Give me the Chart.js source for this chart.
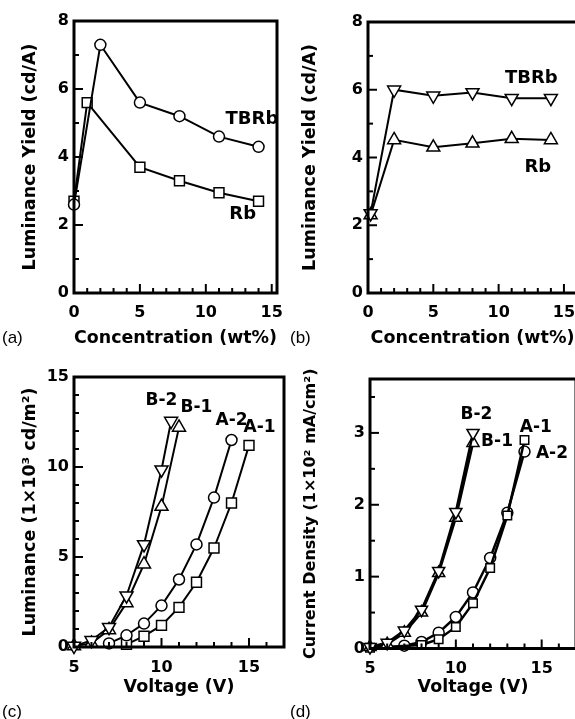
<!DOCTYPE html>
<html>
<head>
<meta charset="utf-8">
<script src="https://cdn.jsdelivr.net/npm/chart.js@4.4.0/dist/chart.umd.min.js"></script>
<style>
html, body { margin: 0; padding: 0; background: #fff; overflow: hidden; }
body { width: 575px; height: 719px; position: relative; }
canvas { position: absolute; }
.tag { position: absolute; font: 17px "Liberation Sans", Arial, sans-serif; color: #000; line-height: 20px; }
</style>
</head>
<body>
<canvas id="chartA" width="295" height="360" style="left:0;top:0"></canvas>
<canvas id="chartB" width="300" height="360" style="left:287px;top:0"></canvas>
<canvas id="chartC" width="295" height="359" style="left:0;top:360px"></canvas>
<canvas id="chartD" width="300" height="359" style="left:287px;top:360px"></canvas>
<div class="tag" style="left:2px;top:328px">(a)</div>
<div class="tag" style="left:290px;top:328px">(b)</div>
<div class="tag" style="left:2px;top:702px">(c)</div>
<div class="tag" style="left:290px;top:702px">(d)</div>
<script>
// (a) luminance yield vs dopant concentration
var concA_TBRb = [0, 2, 5, 8, 11, 14];
var yieldA_TBRb = [2.6, 7.3, 5.6, 5.2, 4.6, 4.3];
var concA_Rb = [0, 1, 5, 8, 11, 14];
var yieldA_Rb = [2.7, 5.6, 3.7, 3.3, 2.95, 2.7];

// (b)
var concB = [0.2, 2, 5, 8, 11, 14];
var yieldB_TBRb = [2.35, 6.0, 5.82, 5.92, 5.75, 5.75];
var yieldB_Rb = [2.3, 4.52, 4.3, 4.42, 4.55, 4.52];

// (c) luminance vs voltage
var voltC_B2 = [5, 6, 7, 8, 9, 10, 10.55];
var lumC_B2 = [0.05, 0.37, 1.1, 2.85, 5.7, 9.85, 12.55];
var voltC_B1 = [5, 6, 7, 8, 9, 10, 11];
var lumC_B1 = [0.05, 0.2, 0.95, 2.45, 4.6, 7.8, 12.2];
var voltC_A2 = [7, 8, 9, 10, 11, 12, 13, 14];
var lumC_A2 = [0.2, 0.65, 1.3, 2.3, 3.75, 5.7, 8.3, 11.5];
var voltC_A1 = [8, 9, 10, 11, 12, 13, 14, 15];
var lumC_A1 = [0.15, 0.6, 1.2, 2.2, 3.6, 5.5, 8.0, 11.2];

// (d) current density vs voltage
var voltD_B = [5, 6, 7, 8, 9, 10, 11];
var curD_B2 = [0.02, 0.08, 0.25, 0.54, 1.08, 1.9, 3.0];
var curD_B1 = [0.02, 0.06, 0.22, 0.5, 1.05, 1.82, 2.86];
var voltD_A2 = [7, 8, 9, 10, 11, 12, 13, 14];
var curD_A2 = [0.04, 0.09, 0.22, 0.44, 0.78, 1.26, 1.89, 2.74];
var voltD_A1 = [5, 8, 9, 10, 11, 12, 13, 14];
var curD_A1 = [0.01, 0.05, 0.13, 0.3, 0.63, 1.12, 1.85, 2.9];

// labelled (major) ticks
var ticksConc = [0, 5, 10, 15];
var ticksYield = [0, 2, 4, 6, 8];
var ticksVolt = [5, 10, 15];
var ticksLum = [0, 5, 10, 15];
var ticksCur = [0, 1, 2, 3];

var FONT = '"DejaVu Sans", sans-serif';

function xy(xs, ys) {
    return xs.map(function (x, i) { return {x: x, y: ys[i]}; });
}

function series(xs, ys, style, radius, rot, width) {
    return {
        data: xy(xs, ys),
        borderColor: '#000',
        borderWidth: width || 2,
        pointStyle: style,
        pointRadius: radius,
        pointRotation: rot || 0,
        pointBackgroundColor: '#fff',
        pointBorderColor: '#000',
        pointBorderWidth: 1.5,
        tension: 0,
        clip: false
    };
}

function axis(o) {
    return {
        type: 'linear',
        min: o.min,
        max: o.max,
        afterFit: function (s) {
            if (s.isHorizontal()) s.height = o.size; else s.width = o.size;
        },
        grid: {display: false, drawTicks: false},
        border: {display: false},
        ticks: {
            stepSize: o.step,
            autoSkip: false,
            maxRotation: 0,
            includeBounds: false,
            padding: o.tickPad,
            color: '#000',
            font: {family: FONT, weight: 'bold', size: 16},
            callback: function (v) {
                var hit = o.labels.some(function (l) { return Math.abs(l - v) < 1e-6; });
                return hit ? String(v) : '';
            }
        },
        title: {
            display: true,
            text: o.title,
            color: '#000',
            font: {family: FONT, weight: 'bold', size: o.titleSize || 17.5},
            padding: o.titlePad
        }
    };
}

// inward tick marks + box frame
var framePlugin = {
    id: 'frame',
    afterDraw: function (chart) {
        var ctx = chart.ctx, a = chart.chartArea;
        ctx.save();
        ctx.strokeStyle = '#000';
        ctx.lineWidth = 2;
        ['x', 'y'].forEach(function (id) {
            var sc = chart.scales[id];
            sc.ticks.forEach(function (t) {
                var len = t.label === '' ? 5 : 9;
                var p = sc.getPixelForValue(t.value);
                ctx.beginPath();
                if (id === 'x') { ctx.moveTo(p, a.bottom); ctx.lineTo(p, a.bottom - len); }
                else { ctx.moveTo(a.left, p); ctx.lineTo(a.left + len, p); }
                ctx.stroke();
            });
        });
        ctx.lineWidth = 3;
        ctx.strokeRect(a.left, a.top, a.right - a.left, a.bottom - a.top);
        ctx.restore();
    }
};

function notes(items, size) {
    return {
        id: 'notes',
        afterDatasetsDraw: function (chart) {
            var ctx = chart.ctx, xs = chart.scales.x, ys = chart.scales.y;
            ctx.save();
            ctx.fillStyle = '#000';
            ctx.font = 'bold ' + size + 'px ' + FONT;
            ctx.textAlign = 'center';
            ctx.textBaseline = 'middle';
            items.forEach(function (n) {
                ctx.fillText(n.text, xs.getPixelForValue(n.x), ys.getPixelForValue(n.y));
            });
            ctx.restore();
        }
    };
}

function panel(id, datasets, pad, xAx, yAx, noteList, noteSize) {
    return new Chart(document.getElementById(id), {
        type: 'line',
        data: {datasets: datasets},
        options: {
            responsive: false,
            animation: false,
            layout: {padding: pad},
            plugins: {legend: {display: false}, tooltip: {enabled: false}},
            scales: {x: axis(xAx), y: axis(yAx)}
        },
        plugins: [framePlugin, notes(noteList, noteSize)]
    });
}

panel('chartA', [
    series(concA_TBRb, yieldA_TBRb, 'circle', 5.5),
    series(concA_Rb, yieldA_Rb, 'rect', 7)
], {left: 0, top: 21, right: 18, bottom: 0},
    {min: 0, max: 15.4, step: 1, labels: ticksConc, size: 67, tickPad: 10,
     title: 'Concentration (wt%)', titlePad: {top: 0, bottom: 11.5}},
    {min: 0, max: 8, step: 1, labels: ticksYield, size: 74, tickPad: 5,
     title: 'Luminance Yield (cd/A)', titlePad: {top: 19.5, bottom: 0}},
    [{text: 'TBRb', x: 13.5, y: 5.1}, {text: 'Rb', x: 12.8, y: 2.3}], 18);

panel('chartB', [
    series(concB, yieldB_TBRb, 'triangle', 7.5, 180),
    series(concB, yieldB_Rb, 'triangle', 7.5)
], {left: 0, top: 22, right: 9.4, bottom: 0},
    {min: 0, max: 16, step: 1, labels: ticksConc, size: 67, tickPad: 10,
     title: 'Concentration (wt%)', titlePad: {top: 0, bottom: 11.5}},
    {min: 0, max: 8, step: 1, labels: ticksYield, size: 81, tickPad: 5,
     title: 'Luminance Yield (cd/A)', titlePad: {top: 13, bottom: 0}},
    [{text: 'TBRb', x: 12.5, y: 6.35}, {text: 'Rb', x: 13, y: 3.7}], 18);

panel('chartC', [
    series(voltC_B2, lumC_B2, 'triangle', 7.5, 180),
    series(voltC_B1, lumC_B1, 'triangle', 7.5),
    series(voltC_A2, lumC_A2, 'circle', 5.5),
    series(voltC_A1, lumC_A1, 'rect', 7)
], {left: 0, top: 17, right: 8, bottom: 0},
    {min: 5, max: 17, step: 1, labels: ticksVolt, size: 72, tickPad: 11,
     title: 'Voltage (V)', titlePad: {top: 0, bottom: 21.5}},
    {min: 0, max: 15, step: 1, labels: ticksLum, size: 74, tickPad: 5,
     title: 'Luminance (1\u00d710\u00b3 cd/m\u00b2)', titlePad: {top: 19.5, bottom: 0}},
    [{text: 'B-2', x: 10.0, y: 13.7}, {text: 'B-1', x: 12.0, y: 13.3},
     {text: 'A-2', x: 14.0, y: 12.6}, {text: 'A-1', x: 15.6, y: 12.2}], 17);

panel('chartD', [
    series(voltD_B, curD_B2, 'triangle', 7, 180, 2.5),
    series(voltD_B, curD_B1, 'triangle', 7, 0, 2.5),
    series(voltD_A1, curD_A1, 'rect', 6, 0, 2.5),
    series(voltD_A2, curD_A2, 'circle', 5.5, 0, 2.5)
], {left: 0, top: 19, right: 7, bottom: 0},
    {min: 5, max: 17, step: 1, labels: ticksVolt, size: 70.5, tickPad: 11,
     title: 'Voltage (V)', titlePad: {top: 0, bottom: 21.5}},
    {min: 0, max: 3.75, step: 0.5, labels: ticksCur, size: 83, tickPad: 5,
     title: 'Current Density (1\u00d710\u00b2 mA/cm\u00b2)', titleSize: 16, titlePad: {top: 14.5, bottom: 0}},
    [{text: 'B-2', x: 11.2, y: 3.26}, {text: 'B-1', x: 12.4, y: 2.88},
     {text: 'A-1', x: 14.66, y: 3.08}, {text: 'A-2', x: 15.6, y: 2.71}], 17);
</script>
</body>
</html>
